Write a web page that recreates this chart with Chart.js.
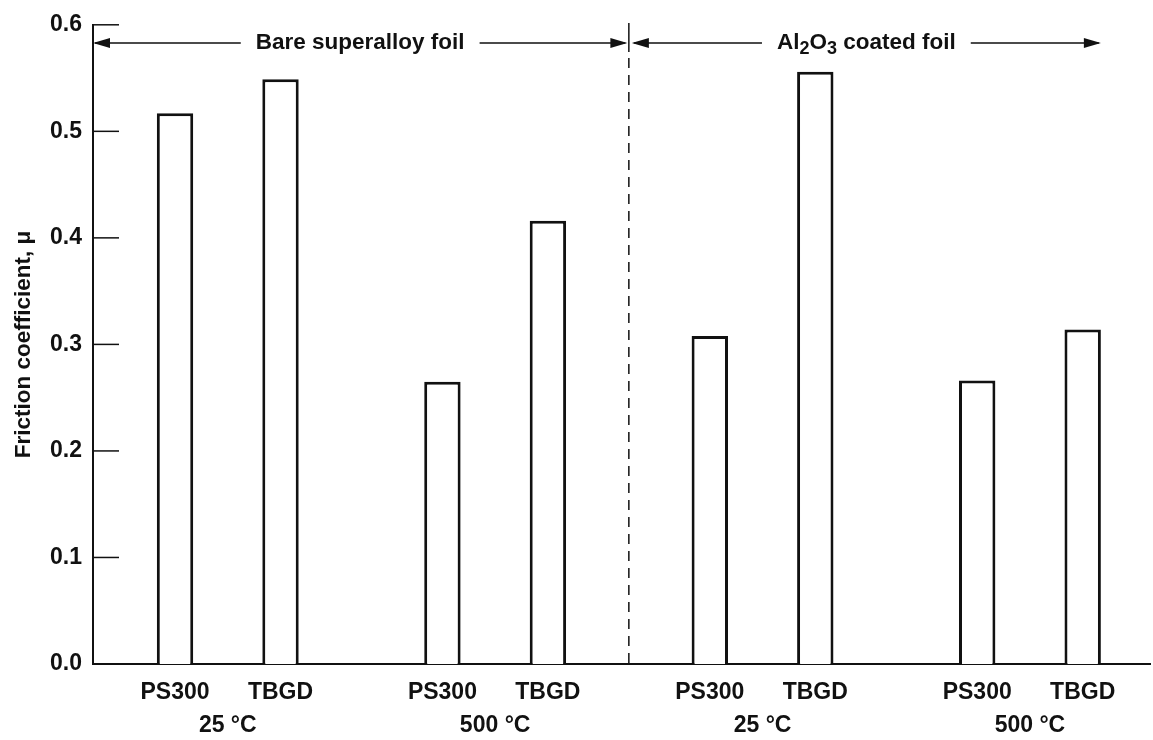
<!DOCTYPE html>
<html>
<head>
<meta charset="utf-8">
<script src="https://cdn.jsdelivr.net/npm/chart.js@4.4.1/dist/chart.umd.min.js"></script>
<style>
html, body { margin: 0; padding: 0; background: #fff; }
#wrap { width: 1153px; height: 740px; }
</style>
</head>
<body>
<div id="wrap"><canvas id="chart" width="1153" height="740"></canvas></div>
<script>
// Data
var groups = ['25 °C', '500 °C', '25 °C', '500 °C'];
var sections = ['Bare superalloy foil', 'Al2O3 coated foil'];
var ps300 = [0.517, 0.265, 0.308, 0.266];
var tbgd = [0.549, 0.416, 0.556, 0.314];
var yTicks = [0, 0.1, 0.2, 0.3, 0.4, 0.5, 0.6];

var FONT = '"Liberation Sans", Arial, Helvetica, sans-serif';
var INK = '#111';

function toPoints(arr) {
	return arr.map(function(v, i) { return {x: i, y: v}; });
}

// text with subscript digits (Al2O3)
function richParts(text) {
	return text.split(/(\d)/).filter(function(p) { return p.length; });
}
function richWidth(ctx, text) {
	var w = 0;
	richParts(text).forEach(function(p) {
		ctx.font = (/^\d$/.test(p) ? 'bold 18px ' : 'bold 22.5px ') + FONT;
		w += ctx.measureText(p).width;
	});
	return w;
}
function drawRich(ctx, text, cx, cy) {
	var x = cx - richWidth(ctx, text) / 2;
	ctx.textAlign = 'left';
	ctx.textBaseline = 'middle';
	richParts(text).forEach(function(p) {
		var sub = /^\d$/.test(p);
		ctx.font = (sub ? 'bold 18px ' : 'bold 22.5px ') + FONT;
		ctx.fillText(p, x, cy + (sub ? 6 : 0));
		x += ctx.measureText(p).width;
	});
}

function arrowHead(ctx, tipX, y, dir) {
	ctx.beginPath();
	ctx.moveTo(tipX, y);
	ctx.lineTo(tipX - dir * 17, y - 5);
	ctx.lineTo(tipX - dir * 17, y + 5);
	ctx.closePath();
	ctx.fill();
}

// section arrows: <--- text --->
function sectionArrow(ctx, text, x1, x2, y) {
	var mid = (x1 + x2) / 2;
	var w = richWidth(ctx, text);
	var gap = 15;
	ctx.beginPath();
	ctx.moveTo(x1 + 2, y);
	ctx.lineTo(mid - w / 2 - gap, y);
	ctx.moveTo(mid + w / 2 + gap, y);
	ctx.lineTo(x2 - 2, y);
	ctx.stroke();
	arrowHead(ctx, x1, y, -1);
	arrowHead(ctx, x2, y, 1);
	drawRich(ctx, text, mid, y);
}

var decorations = {
	id: 'decorations',
	afterDraw: function(chart) {
		var ctx = chart.ctx;
		var area = chart.chartArea;
		var xs = chart.scales.x;
		var ys = chart.scales.y;
		ctx.save();
		ctx.strokeStyle = INK;
		ctx.fillStyle = INK;
		ctx.lineWidth = 1.5;

		// inner tick marks
		yTicks.forEach(function(v) {
			var y = ys.getPixelForValue(v);
			ctx.beginPath();
			ctx.moveTo(area.left, y);
			ctx.lineTo(area.left + 26, y);
			ctx.stroke();
		});

		// bar names and temperature labels
		ctx.font = 'bold 23px ' + FONT;
		ctx.textAlign = 'center';
		ctx.textBaseline = 'middle';
		chart.data.datasets.forEach(function(ds, di) {
			chart.getDatasetMeta(di).data.forEach(function(bar) {
				ctx.fillText(ds.label, bar.x, area.bottom + 29);
			});
		});
		groups.forEach(function(g, i) {
			ctx.fillText(g, xs.getPixelForValue(i), area.bottom + 62);
		});

		// divider between bare and coated foil
		var midX = xs.getPixelForValue(1.5);
		ctx.beginPath();
		ctx.moveTo(midX, 23);
		ctx.lineTo(midX, 52);
		ctx.stroke();
		ctx.setLineDash([10, 7]);
		ctx.beginPath();
		ctx.moveTo(midX, 58);
		ctx.lineTo(midX, area.bottom);
		ctx.stroke();
		ctx.setLineDash([]);

		// section arrows
		var last = chart.getDatasetMeta(1).data[groups.length - 1];
		var lastRight = last.x + last.width / 2;
		sectionArrow(ctx, sections[0], area.left, midX - 1.5, 43);
		sectionArrow(ctx, sections[1], midX + 3, lastRight, 43);
		ctx.restore();
	}
};

new Chart(document.getElementById('chart'), {
	type: 'bar',
	data: {
		datasets: [{
			label: 'PS300',
			data: toPoints(ps300),
			backgroundColor: '#fff',
			borderColor: INK,
			borderWidth: 3,
			categoryPercentage: 0.789,
			barPercentage: 0.345
		}, {
			label: 'TBGD',
			data: toPoints(tbgd),
			backgroundColor: '#fff',
			borderColor: INK,
			borderWidth: 3,
			categoryPercentage: 0.789,
			barPercentage: 0.345
		}]
	},
	options: {
		responsive: false,
		animation: false,
		layout: {padding: {left: 0, right: 3, top: 17, bottom: 0}},
		plugins: {
			legend: {display: false},
			tooltip: {enabled: false}
		},
		scales: {
			x: {
				type: 'linear',
				offset: false,
				min: -0.504,
				max: 3.449,
				grid: {display: false, drawTicks: false, offset: false},
				border: {display: true, color: INK, width: 2},
				ticks: {display: false},
				afterBuildTicks: function(scale) {
					scale.ticks = groups.map(function(g, i) { return {value: i}; });
				},
				afterFit: function(scale) { scale.height = 76; }
			},
			y: {
				min: 0,
				max: 0.6,
				grid: {display: false, drawTicks: false},
				border: {display: true, color: INK, width: 2},
				ticks: {
					stepSize: 0.1,
					padding: 11,
					color: INK,
					font: {family: FONT, size: 23, weight: 'bold'},
					callback: function(v) { return v.toFixed(1); }
				},
				title: {
					display: true,
					text: 'Friction coefficient, μ',
					color: INK,
					font: {family: FONT, size: 22.5, weight: 'bold'},
					padding: {top: 10, bottom: 0}
				},
				afterFit: function(scale) { scale.width = 93; }
			}
		}
	},
	plugins: [decorations]
});
</script>
</body>
</html>
